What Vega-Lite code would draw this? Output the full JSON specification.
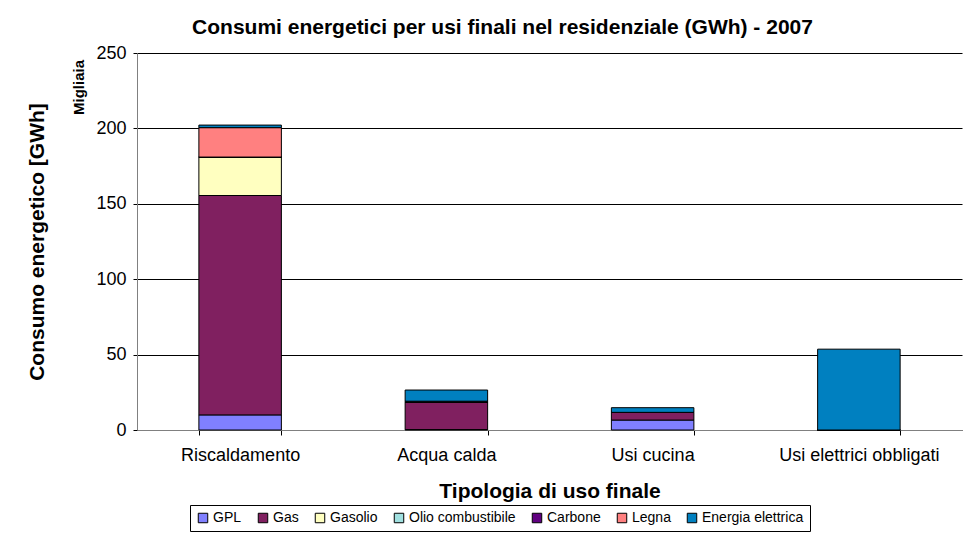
{
  "$schema": "https://vega.github.io/schema/vega-lite/v6.json",
  "width": 825,
  "height": 377,
  "autosize": {"type": "none"},
  "padding": {"left": 137, "top": 53, "right": 1, "bottom": 124},
  "background": "white",
  "title": {
    "text": "Consumi energetici per usi finali nel residenziale (GWh) - 2007",
    "font": "Liberation Sans",
    "fontSize": 21,
    "fontWeight": "bold",
    "color": "black",
    "anchor": "middle",
    "dx": -47,
    "offset": 6
  },
  "config": {
    "view": {"stroke": null},
    "font": "Liberation Sans"
  },
  "data": {
    "values": [
      {"uso": "Riscaldamento", "fonte": "GPL", "ord": 1, "valore": 10},
      {"uso": "Riscaldamento", "fonte": "Gas", "ord": 2, "valore": 145.5},
      {"uso": "Riscaldamento", "fonte": "Gasolio", "ord": 3, "valore": 25.5},
      {"uso": "Riscaldamento", "fonte": "Olio combustibile", "ord": 4, "valore": 0},
      {"uso": "Riscaldamento", "fonte": "Carbone", "ord": 5, "valore": 0},
      {"uso": "Riscaldamento", "fonte": "Legna", "ord": 6, "valore": 19.5},
      {"uso": "Riscaldamento", "fonte": "Energia elettrica", "ord": 7, "valore": 1.7},
      {"uso": "Acqua calda", "fonte": "GPL", "ord": 1, "valore": 0.3},
      {"uso": "Acqua calda", "fonte": "Gas", "ord": 2, "valore": 18.2},
      {"uso": "Acqua calda", "fonte": "Gasolio", "ord": 3, "valore": 0},
      {"uso": "Acqua calda", "fonte": "Olio combustibile", "ord": 4, "valore": 0},
      {"uso": "Acqua calda", "fonte": "Carbone", "ord": 5, "valore": 0.6},
      {"uso": "Acqua calda", "fonte": "Legna", "ord": 6, "valore": 0},
      {"uso": "Acqua calda", "fonte": "Energia elettrica", "ord": 7, "valore": 7.4},
      {"uso": "Usi cucina", "fonte": "GPL", "ord": 1, "valore": 6.6},
      {"uso": "Usi cucina", "fonte": "Gas", "ord": 2, "valore": 5.1},
      {"uso": "Usi cucina", "fonte": "Gasolio", "ord": 3, "valore": 0},
      {"uso": "Usi cucina", "fonte": "Olio combustibile", "ord": 4, "valore": 0},
      {"uso": "Usi cucina", "fonte": "Carbone", "ord": 5, "valore": 0},
      {"uso": "Usi cucina", "fonte": "Legna", "ord": 6, "valore": 0},
      {"uso": "Usi cucina", "fonte": "Energia elettrica", "ord": 7, "valore": 3.1},
      {"uso": "Usi elettrici obbligati", "fonte": "GPL", "ord": 1, "valore": 0},
      {"uso": "Usi elettrici obbligati", "fonte": "Gas", "ord": 2, "valore": 0},
      {"uso": "Usi elettrici obbligati", "fonte": "Gasolio", "ord": 3, "valore": 0},
      {"uso": "Usi elettrici obbligati", "fonte": "Olio combustibile", "ord": 4, "valore": 0},
      {"uso": "Usi elettrici obbligati", "fonte": "Carbone", "ord": 5, "valore": 0},
      {"uso": "Usi elettrici obbligati", "fonte": "Legna", "ord": 6, "valore": 0},
      {"uso": "Usi elettrici obbligati", "fonte": "Energia elettrica", "ord": 7, "valore": 53.6}
    ]
  },
  "layer": [
    {
      "mark": {"type": "bar", "stroke": "black", "strokeWidth": 1},
      "encoding": {
        "x": {
          "field": "uso",
          "type": "nominal",
          "sort": ["Riscaldamento", "Acqua calda", "Usi cucina", "Usi elettrici obbligati"],
          "scale": {"paddingInner": 0.6, "paddingOuter": 0.3},
          "axis": {
            "title": "Tipologia di uso finale",
            "titleFont": "Liberation Sans",
            "titleFontSize": 21,
            "titleFontWeight": "bold",
            "titleColor": "black",
            "titleY": 50,
            "labelAngle": 0,
            "labelFont": "Liberation Sans",
            "labelFontSize": 18,
            "labelColor": "black",
            "labelPadding": 11,
            "tickBand": "extent",
            "tickSize": 5,
            "tickColor": "black",
            "domainColor": "#808080",
            "domainWidth": 1
          }
        },
        "y": {
          "field": "valore",
          "type": "quantitative",
          "stack": "zero",
          "scale": {"domain": [0, 250], "nice": false},
          "axis": {
            "title": "Consumo energetico [GWh]",
            "titleFont": "Liberation Sans",
            "titleFontSize": 21,
            "titleFontWeight": "bold",
            "titleColor": "black",
            "titleX": -100,
            "titleBaseline": "middle",
            "values": [0, 50, 100, 150, 200, 250],
            "labelFont": "Liberation Sans",
            "labelFontSize": 18,
            "labelColor": "black",
            "labelPadding": 7,
            "tickSize": 4,
            "tickColor": "black",
            "domainColor": "#808080",
            "grid": true,
            "gridColor": "black",
            "gridWidth": 1
          }
        },
        "color": {
          "field": "fonte",
          "type": "nominal",
          "scale": {
            "domain": ["GPL", "Gas", "Gasolio", "Olio combustibile", "Carbone", "Legna", "Energia elettrica"],
            "range": ["#8080FF", "#802060", "#FFFFC0", "#A0E0E0", "#600080", "#FF8080", "#0080C0"]
          },
          "legend": {
            "title": null,
            "orient": "none",
            "legendX": 53,
            "legendY": 452,
            "direction": "horizontal",
            "columns": 7,
            "symbolType": "square",
            "symbolSize": 90,
            "symbolStrokeColor": "black",
            "symbolStrokeWidth": 1,
            "labelFont": "Liberation Sans",
            "labelFontSize": 14,
            "labelColor": "black",
            "labelOffset": 3,
            "columnPadding": 14,
            "strokeColor": "black",
            "fillColor": "white",
            "padding": 6
          }
        },
        "order": {"field": "ord", "type": "quantitative"}
      }
    },
    {
      "mark": {"type": "rule", "opacity": 0},
      "encoding": {
        "y": {
          "datum": 0,
          "type": "quantitative",
          "axis": {
            "orient": "left",
            "title": "Migliaia",
            "titleFont": "Liberation Sans",
            "titleFontSize": 15,
            "titleFontWeight": "bold",
            "titleColor": "black",
            "titleX": -59,
            "titleY": 34,
            "titleAngle": -90,
            "titleAlign": "center",
            "titleBaseline": "middle",
            "labels": false,
            "ticks": false,
            "domain": false,
            "grid": false
          }
        }
      }
    }
  ],
  "resolve": {"axis": {"y": "independent"}}
}
